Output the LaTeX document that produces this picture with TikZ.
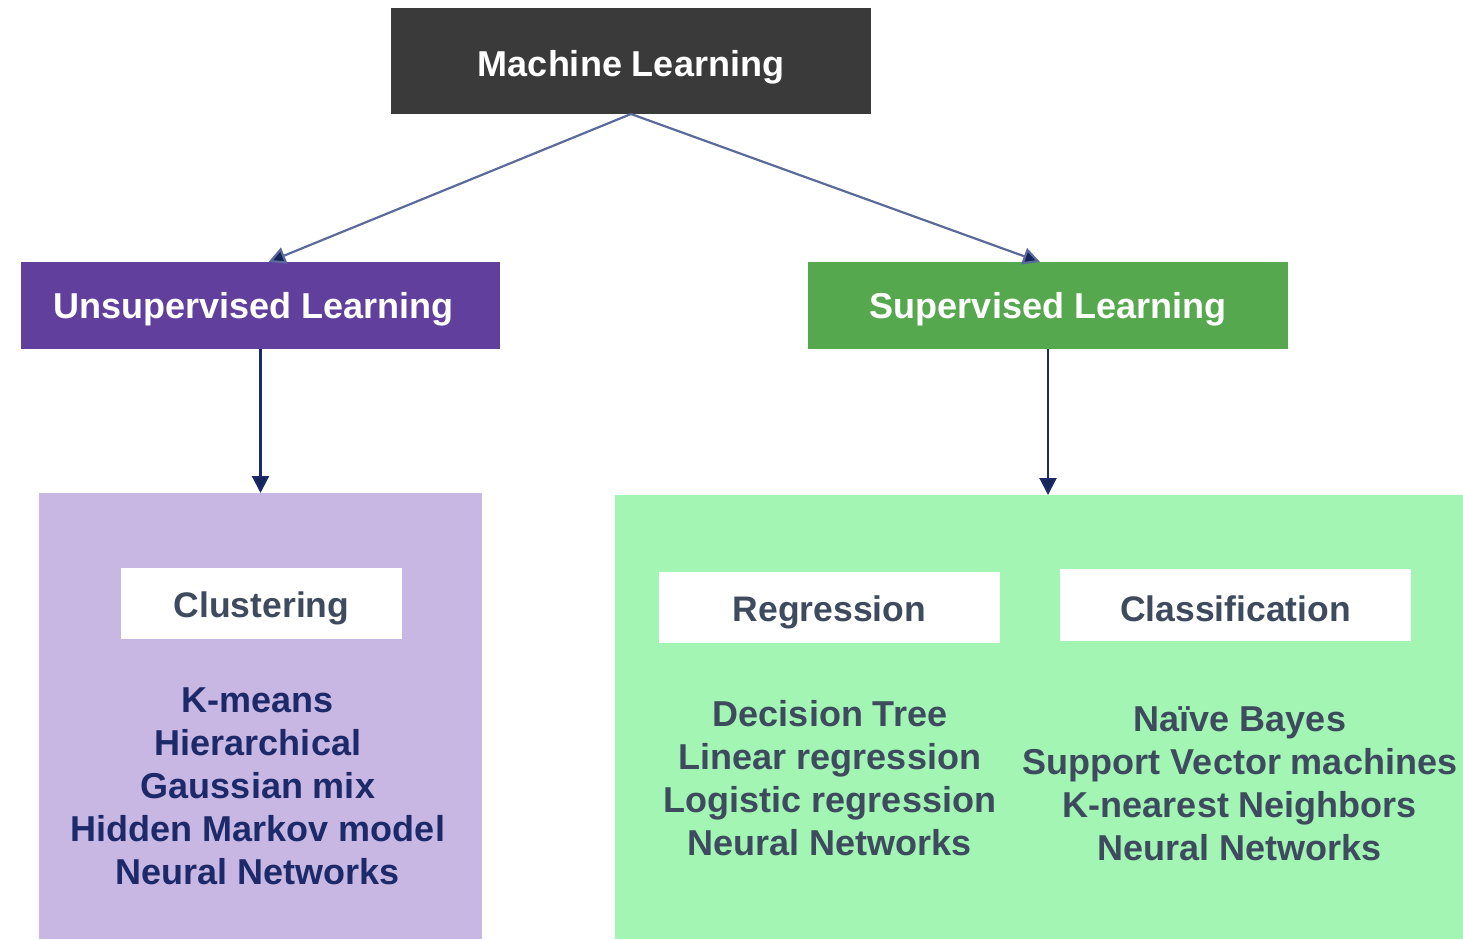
\documentclass[tikz,border=0pt]{standalone}
\usepackage{fontspec}
\setmainfont{Liberation Sans}
\usetikzlibrary{arrows.meta,calc}

\definecolor{mlgrey}{HTML}{3A3A3A}
\definecolor{unspurple}{HTML}{613F9C}
\definecolor{supgreen}{HTML}{55A84D}
\definecolor{lavender}{HTML}{C9B7E3}
\definecolor{mint}{HTML}{A3F5B4}
\definecolor{navy}{HTML}{1C2A6A}
\definecolor{slate}{HTML}{3E4A5E}
\definecolor{linkblue}{HTML}{5A6A9A}
\definecolor{tipnavy}{HTML}{15255A}

\tikzset{
  every node/.style={inner sep=0pt, outer sep=0pt},
  headbox/.style={rectangle, draw=none},
  headtext/.style={text=white, font=\fontsize{36}{42}\selectfont\bfseries},
  panel/.style={rectangle, draw=none},
  tagbox/.style={rectangle, fill=white, draw=none},
  tagtext/.style={text=slate, font=\fontsize{35.5}{42}\selectfont\bfseries},
  itemlist/.style={align=center, font=\fontsize{36}{43}\selectfont\bfseries},
  link/.style={draw=linkblue, line width=2.2pt,
    -{Triangle[length=17pt,width=17pt,fill=tipnavy]}},
  drop/.style={draw=navy, line width=2.2pt,
    -{Triangle[length=17pt,width=17pt,fill=tipnavy]}}
}

\begin{document}
\begin{tikzpicture}[x=1pt,y=-1pt]
  \useasboundingbox (0,0) rectangle (1463,939);

  % top level
  \node[headbox, fill=mlgrey, minimum width=480pt, minimum height=106pt,
    label={[headtext, yshift=-6pt]center:Machine Learning}]
    (ml) at (631,61) {};

  % second level
  \node[headbox, fill=unspurple, minimum width=479pt, minimum height=87pt,
    label={[headtext, xshift=-7pt, yshift=-4pt]center:Unsupervised Learning}]
    (uns) at (260.5,305.5) {};
  \node[headbox, fill=supgreen, minimum width=480pt, minimum height=87pt,
    label={[headtext, yshift=-3.5pt]center:Supervised Learning}]
    (sup) at (1048,305.5) {};

  % algorithm panels
  \node[panel, fill=lavender, minimum width=443pt, minimum height=446pt]
    (unspanel) at (260.5,716) {};
  \node[panel, fill=mint, minimum width=848pt, minimum height=444pt]
    (suppanel) at (1039,717) {};

  % task labels
  \node[tagbox, minimum width=281pt, minimum height=71pt,
    label={[tagtext, yshift=-4.5pt]center:Clustering}]
    (clu) at (261.5,603.5) {};
  \node[tagbox, minimum width=341pt, minimum height=71pt,
    label={[tagtext, yshift=-4.5pt]center:Regression}]
    (reg) at (829.5,607.5) {};
  \node[tagbox, minimum width=351pt, minimum height=72pt,
    label={[tagtext, yshift=-4pt]center:Classification}]
    (cls) at (1235.5,605) {};

  % algorithm lists
  \node[itemlist, text=navy, anchor=north] (clulist) at (258,688)
    {K-means\\Hierarchical\\Gaussian mix\\Hidden Markov model\\Neural Networks};
  \node[itemlist, text=slate, anchor=north] (reglist) at (830,700)
    {Decision Tree\\Linear regression\\Logistic regression\\Neural Networks};
  \node[itemlist, text=slate, anchor=north] (clslist) at (1240,707)
    {Naïve Bayes\\Support Vector machines\\K-nearest Neighbors\\Neural Networks};

  % connectors
  \draw[link] (ml.south) -- ($(uns.north)+(8,0)$);
  \draw[link] (ml.south) -- ($(sup.north)+(-8,0)$);
  \draw[drop] (uns.south) -- (unspanel.north);
  \draw[drop] (sup.south) -- ($(suppanel.north)+(9,0)$);
\end{tikzpicture}
\end{document}
